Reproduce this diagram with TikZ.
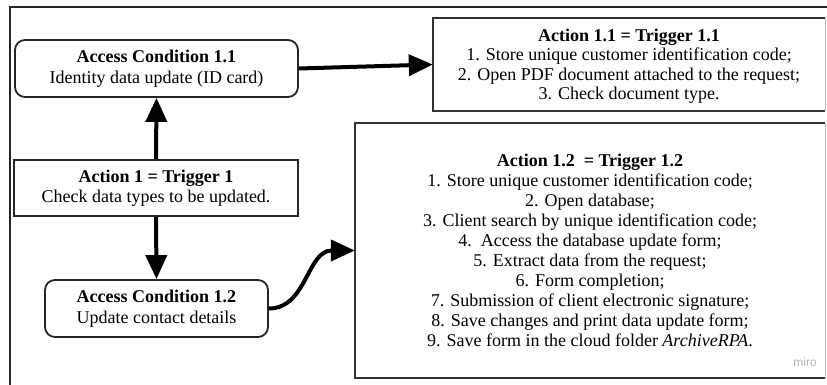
\documentclass[tikz,border=0pt]{standalone}
\usepackage{fontspec}
\setmainfont{Liberation Serif}
\newfontfamily\sansf{Liberation Sans}
\usetikzlibrary{arrows.meta}
\begin{document}
\begin{tikzpicture}[x=1pt,y=-1pt,
  frame/.style={draw=black!85, line width=1.8pt},
  edge/.style={draw=black!80, line width=1.8pt},
  cond/.style={draw=black!85, line width=1.8pt, rounded corners=10pt, align=center, inner sep=0pt, font=\fontsize{18}{20.5}\selectfont},
  sq/.style={draw=black!85, line width=1.8pt, align=center, inner sep=0pt, font=\fontsize{18}{20.5}\selectfont},
  bigbox/.style={draw=none, inner sep=0pt},
  boxtext/.style={align=center, inner sep=0pt, font=\fontsize{18}{20}\selectfont},
  arr/.style={draw=black, line width=4pt, -{Triangle[length=24pt,width=21pt]}},
]
\useasboundingbox (0,0) rectangle (827,385);
\draw[frame] (10,385) -- (10,7) -- (827,7);

% left column
\node[cond, minimum width=283pt, minimum height=57pt] (c11) at (156.5,68.5)
  {\textbf{Access Condition 1.1}\\Identity data update (ID card)};
\node[sq, minimum width=284pt, minimum height=56pt] (a1) at (156,188)
  {\textbf{Action 1 = Trigger 1}\\Check data types to be updated.};
\node[cond, minimum width=223pt, minimum height=57pt] (c12) at (156.5,308.5)
  {\textbf{Access Condition 1.2}\\Update contact details};

% right column boxes
\node[bigbox, minimum width=392pt, minimum height=93pt] (a11) at (629,64.5) {};
\draw[edge] (a11.north east) -- (a11.north west) -- (a11.south west) -- (a11.south east);
\draw[draw=black!25, line width=1pt] (a11.north east) -- (a11.south east);
\node[boxtext, font=\fontsize{18}{19.5}\selectfont] (t11) at (629,66)
  {\textbf{Action 1.1 = Trigger 1.1}\\
   1. Store unique customer identification code;\\
   2. Open PDF document attached to the request;\\
   3. Check document type.};

\node[bigbox, minimum width=470pt, minimum height=255pt] (a12) at (590,250.5) {};
\draw[edge] (a12.north east) -- (a12.north west) -- (a12.south west) -- (a12.south east);
\draw[draw=black!25, line width=1pt] (a12.north east) -- (a12.south east);
\node[boxtext] (t12) at (590,250)
  {\textbf{Action 1.2\ \ = Trigger 1.2}\\
   1. Store unique customer identification code;\\
   2. Open database;\\
   3. Client search by unique identification code;\\
   4.\ \ Access the database update form;\\
   5. Extract data from the request;\\
   6. Form completion;\\
   7. Submission of client electronic signature;\\
   8. Save changes and print data update form;\\
   9. Save form in the cloud folder \textit{ArchiveRPA}.};
\node[font=\sansf\fontsize{12}{12}\selectfont, text=black!30, inner sep=0pt] (miro) at (805,362) {miro};

% connectors
\draw[arr] (a1.north) -- (c11.south);
\draw[arr] (a1.south) -- (c12.north);
\draw[arr] (c11.east) -- (a11.west);
\draw[arr] (c12.east) .. controls +(38,0) and +(-48,0) .. (a12.west);
\end{tikzpicture}
\end{document}
